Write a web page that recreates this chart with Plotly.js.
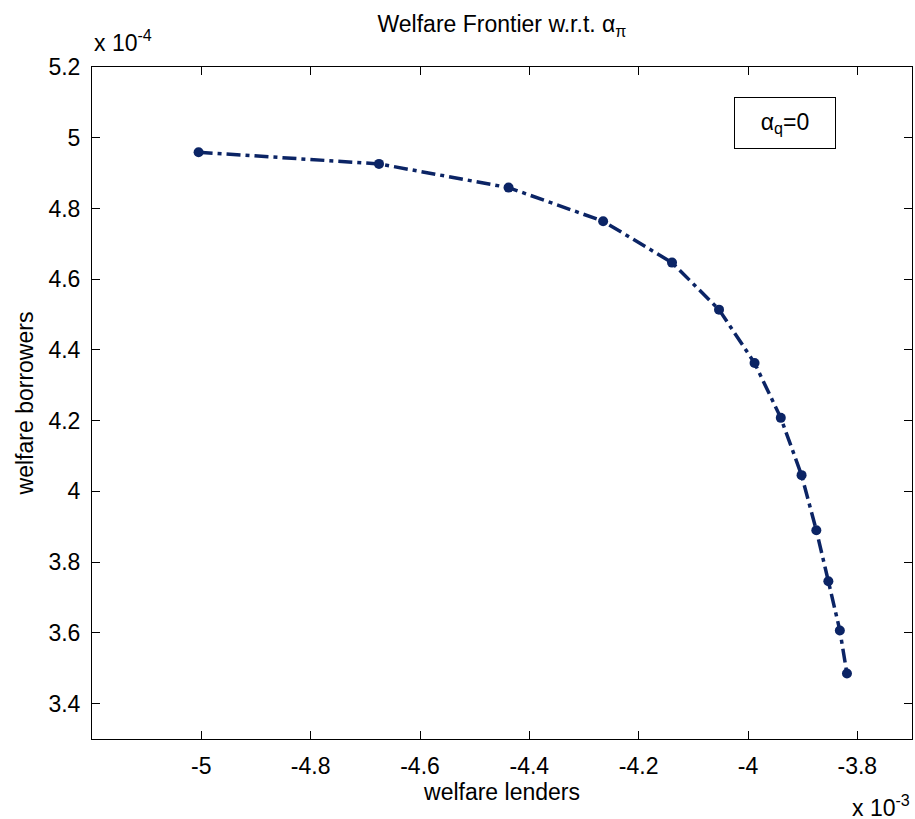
<!DOCTYPE html>
<html>
<head>
<meta charset="utf-8">
<script src="https://cdn.plot.ly/plotly-3.0.1.min.js"></script>
<style>html,body{margin:0;padding:0;background:#fff;}#chart{width:915px;height:819px;}</style>
</head>
<body>
<div id="chart"></div>
<script>
// Welfare of lenders (x 10^-3) and borrowers (x 10^-4)
const welfareLenders = [-5.005, -4.675, -4.438, -4.265, -4.139, -4.053, -3.988, -3.940, -3.902, -3.875, -3.853, -3.832, -3.819];
const welfareBorrowers = [4.959, 4.926, 4.859, 4.764, 4.647, 4.514, 4.363, 4.208, 4.046, 3.890, 3.746, 3.607, 3.485];
const xTickVals = [-5, -4.8, -4.6, -4.4, -4.2, -4, -3.8];
const xTickText = ["-5", "-4.8", "-4.6", "-4.4", "-4.2", "-4", "-3.8"];
const yTickVals = [3.4, 3.6, 3.8, 4, 4.2, 4.4, 4.6, 4.8, 5, 5.2];
const yTickText = ["3.4", "3.6", "3.8", "4", "4.2", "4.4", "4.6", "4.8", "5", "5.2"];
const legendText = "α<sub>q</sub>=0";

const FONT = "Arial, 'Liberation Sans', sans-serif";
const navy = "#0b2465";

const trace = {
  x: welfareLenders,
  y: welfareBorrowers,
  type: "scatter",
  mode: "lines+markers",
  line: {color: navy, width: 3.5, dash: "14px,5px,4px,5px"},
  marker: {color: navy, size: 10, symbol: "circle"},
  showlegend: false,
  hoverinfo: "x+y"
};

const axisCommon = {
  showline: true, linecolor: "#000", linewidth: 1, mirror: "ticks",
  ticks: "inside", ticklen: 8, tickcolor: "#000", tickwidth: 1,
  showgrid: false, zeroline: false,
  tickfont: {family: FONT, size: 23, color: "#000"},
  fixedrange: true
};

const layout = {
  width: 915, height: 819,
  margin: {l: 92, r: 3, t: 67, b: 80, pad: 0},
  paper_bgcolor: "#fff", plot_bgcolor: "#fff",
  font: {family: FONT, color: "#000"},
  title: {
    text: "Welfare Frontier w.r.t. α<sub>π</sub>",
    font: {family: FONT, size: 23, color: "#000"},
    x: 0.5, xref: "paper", y: 1 - 24/819, yref: "container", yanchor: "middle"
  },
  xaxis: Object.assign({}, axisCommon, {
    range: [-5.2, -3.7],
    tickvals: xTickVals, ticktext: xTickText,
    ticklabelstandoff: 6,
    title: {text: "welfare lenders", font: {family: FONT, size: 23, color: "#000"}, standoff: 6}
  }),
  yaxis: Object.assign({}, axisCommon, {
    range: [3.3, 5.2],
    tickvals: yTickVals, ticktext: yTickText,
    ticklabelstandoff: 6,
    title: {text: "welfare borrowers", font: {family: FONT, size: 23, color: "#000"}, standoff: 8}
  }),
  annotations: [
    {text: "x 10<sup>-4</sup>", xref: "paper", yref: "paper", x: 0, y: (739-41)/672,
     xanchor: "left", yanchor: "middle", showarrow: false,
     font: {family: FONT, size: 23, color: "#000"}},
    {text: "x 10<sup>-3</sup>", xref: "paper", yref: "paper", x: 1, y: (739-806)/672,
     xanchor: "right", yanchor: "middle", showarrow: false,
     font: {family: FONT, size: 23, color: "#000"}},
    {text: legendText, xref: "paper", yref: "paper", x: (734-92)/820, y: (739-97)/672,
     xanchor: "left", yanchor: "top", showarrow: false,
     width: 98, height: 48, align: "center", valign: "middle",
     bordercolor: "#000", borderwidth: 1, borderpad: 1, bgcolor: "#fff",
     font: {family: FONT, size: 23, color: "#000"}}
  ]
};

Plotly.newPlot("chart", [trace], layout, {displayModeBar: false, staticPlot: true});
</script>
</body>
</html>
